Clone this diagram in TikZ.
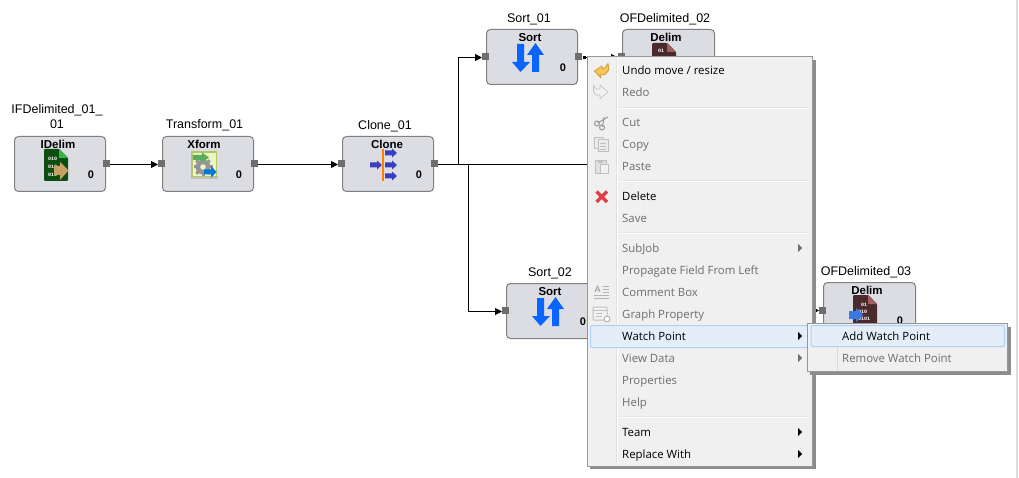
\documentclass[tikz,border=0pt]{standalone}
\usepackage{fontspec}
\setmainfont{Liberation Sans}
\newfontfamily\menufont{Open Sans}
\newfontfamily\monofont{Liberation Mono}
\usetikzlibrary{arrows.meta}
\definecolor{boxfill}{HTML}{DCDDE3}
\definecolor{boxline}{HTML}{7F7F7F}
\definecolor{portc}{HTML}{6E6E6E}
\definecolor{menubg}{HTML}{F0F0F0}
\definecolor{menuline}{HTML}{979797}
\definecolor{dis}{HTML}{6D6D6D}
\definecolor{sortblue}{HTML}{0A64FF}
\definecolor{clonearrow}{HTML}{3A3FBF}
\definecolor{hl}{HTML}{E4EEF9}
\definecolor{hlline}{HTML}{AECFF7}
\definecolor{docgreen}{HTML}{0E4D12}
\definecolor{cornergreen}{HTML}{35B54A}
\definecolor{docbrown}{HTML}{4A2A2C}
\definecolor{cornerbrown}{HTML}{A06060}
\definecolor{tan}{HTML}{C9A063}
\definecolor{xfill}{HTML}{E8F8C0}
\definecolor{xline}{HTML}{B8C468}
\definecolor{bluedoc}{HTML}{3B78E0}
\definecolor{undofill}{HTML}{F7C65B}
\definecolor{undoline}{HTML}{D49A2A}
\definecolor{delred}{RGB}{226,62,72}
\tikzset{
 comp/.style={draw=boxline,fill=boxfill,line width=1pt,rounded corners=4pt,minimum width=91pt,minimum height=55pt,inner sep=0pt,outer sep=0pt,anchor=north west},
 port/.style={fill=portc,minimum size=7pt,inner sep=0pt,outer sep=0pt,draw=none},
 capt/.style={font=\fontsize{12.5}{15}\selectfont,inner sep=0pt,align=center},
 ttl/.style={font=\fontsize{11.5}{13}\selectfont\bfseries,inner sep=0pt},
 cnt/.style={font=\fontsize{11}{13}\selectfont\bfseries,inner sep=0pt},
 bits/.style={text=white,font=\fontsize{5}{5}\selectfont\monofont\bfseries,inner sep=0pt,anchor=base west},
 wire/.style={draw=black,line width=1pt},
 arr/.style={wire,-{Triangle[length=7pt,width=7pt]}},
 item/.style={font=\fontsize{11.4}{14}\selectfont\menufont,text=black,inner sep=0pt,anchor=base west},
 itemd/.style={item,text=dis},
}
\newcommand{\sorticon}[2]{\begin{scope}[shift={(#1,#2)}]
 \fill[sortblue] (31,15)--(38,15)--(38,33)--(44,33)--(34.5,43)--(26,33)--(31,33)--cycle;
 \fill[sortblue] (46,43)--(53,43)--(53,26)--(58,26)--(49.5,14)--(41,26)--(46,26)--cycle;
\end{scope}}
\newcommand{\docicon}[4]{\begin{scope}[shift={(#1,#2)}]
 \fill[#3,rounded corners=1pt] (0,0)--(15,0)--(24,9)--(24,32)--(0,32)--cycle;
 \fill[#4] (15,0)--(24,9)--(15,9)--cycle;
\end{scope}}
\begin{document}
\begin{tikzpicture}[x=1pt,y=-1pt]
\useasboundingbox (0,0) rectangle (1019,478);
\fill[white] (0,0) rectangle (1019,478);
\draw[color=boxfill,line width=2pt] (1017,0)--(1017,478);
% components
\node[comp] (idelim) at (14.5,136.5) {};
\node[comp] (xform) at (162.5,136.5) {};
\node[comp] (clone) at (342.5,136.5) {};
\node[comp] (sorta) at (486.5,29.5) {};
\node[comp,minimum width=92pt] (ofa) at (622.5,29.5) {};
\node[comp] (sortb) at (506.5,283.5) {};
\node[comp,minimum width=92pt] (ofb) at (823.5,282.5) {};
% captions
\node[capt] (capi) at (57,116.5) {IFDelimited\_01\_\\01};
\node[capt] (capx) at (204.5,125.5) {Transform\_01};
\node[capt] (capc) at (385,126) {Clone\_01};
\node[capt] (capa) at (529,19) {Sort\_01};
\node[capt] (capo) at (665,19) {OFDelimited\_02};
\node[capt] (capb) at (550,273) {Sort\_02};
\node[capt] (capp) at (866,272) {OFDelimited\_03};
% titles
\node[ttl] (ti) at (58,144.5) {IDelim};
\node[ttl] (tx) at (204,144.5) {Xform};
\node[ttl] (tc) at (387,144.5) {Clone};
\node[ttl] (ta) at (530,37.5) {Sort};
\node[ttl] (to) at (666,37.5) {Delim};
\node[ttl] (tb) at (550,291.5) {Sort};
\node[ttl] (tp) at (867,290.5) {Delim};
% counters
\node[cnt] (ci) at (91,175) {0};
\node[cnt] (cx) at (239,175) {0};
\node[cnt] (cc) at (419,175) {0};
\node[cnt] (ca) at (563,68) {0};
\node[cnt] (cb) at (583,322) {0};
\node[cnt] (cp) at (900,321) {0};
% icons
\docicon{44}{149}{docgreen}{cornergreen}
\node[bits] (bi1) at (48,161) {010};
\node[bits] (bi2) at (48,169) {010};
\node[bits] (bi3) at (48,176.5) {010};
\fill[tan] (54,166)--(60,166)--(60,162)--(68.5,170.5)--(60,180)--(60,175)--(54,175)--cycle;
% transform icon
\fill[black!25] (191,176) rectangle (218,179);
\filldraw[draw=xline,fill=xfill,line width=1.6pt] (191.8,151.8) rectangle (216.5,176.5);
\foreach \ang in {0,45,...,315}{\draw[black!42,line width=3pt] (203,167)--++(\ang:9.5);}
\fill[black!42] (203,167) circle (7.5pt);
\fill[xfill] (203,167) circle (2.8pt);
\fill[green!50!black!65] (193,155)--(202,155)--(202,152.5)--(209,157.5)--(202,162.5)--(202,160)--(193,160)--cycle;
\fill[blue!45!cyan!85!black] (204,169.5)--(211,169.5)--(211,166)--(216.5,172)--(211,177.5)--(211,174.5)--(204,174.5)--cycle;
% clone icon
\fill[orange] (382,149) rectangle (384,181);
\foreach \yy/\xx in {153/385,165/385,176/385,165/370}{
 \fill[clonearrow,shift={(\xx,\yy)}] (0,-2.5)--(7,-2.5)--(7,-4.5)--(12,0)--(7,4.5)--(7,2.5)--(0,2.5)--cycle;}
\sorticon{486}{29}
\sorticon{506}{283}
\docicon{652}{43}{docbrown}{cornerbrown}
\node[bits] (bo1) at (658,53) {01};
\docicon{853}{295}{docbrown}{cornerbrown}
\node[bits] (bp1) at (861,306) {01};
\node[bits] (bp2) at (858,313.5) {010};
\node[bits] (bp3) at (858,320.5) {0101};
\fill[bluedoc] (849,311)--(856,311)--(856,308)--(863,315)--(856,322)--(856,319)--(849,319)--cycle;
% ports
\node[port] (idelimout) at (106,163.5) {};
\node[port] (xformin) at (161.5,163.5) {};
\node[port] (xformout) at (254.5,163.5) {};
\node[port] (clonein) at (341.5,163.5) {};
\node[port] (cloneout) at (434.5,163.5) {};
\node[port] (sortain) at (485.5,56.5) {};
\node[port] (sortaout) at (578.5,56.5) {};
\node[port] (ofain) at (621.5,56.5) {};
\node[port] (sortbin) at (505.5,310.5) {};
\node[port] (sortbout) at (598.5,310.5) {};
\node[port] (ofbin) at (822.5,310) {};
% connectors
\draw[arr] ([yshift=-1pt]idelimout.east) -- ([yshift=-1pt]xformin.west);
\draw[arr] ([yshift=-1pt]xformout.east) -- ([yshift=-1pt]clonein.west);
\coordinate (branchup) at (458.5,164.5);
\coordinate (branchdn) at (468.5,164.5);
\coordinate (hidden) at (640,164.5);
\draw[wire] ([yshift=-1pt]cloneout.east) -- (hidden);
\draw[arr] (branchup) |- ([yshift=-1pt]sortain.west);
\draw[arr] (branchdn) |- ([yshift=-1pt]sortbin.west);
\draw[wire,{Square[length=3pt,width=3pt]}-{Triangle[length=7pt,width=7pt]}] ([xshift=1pt,yshift=-1pt]sortaout.east) -- ([yshift=-1pt]ofain.west);
\draw[arr] ([yshift=-1pt]sortbout.east) -- ([yshift=-.5pt]ofbin.west);
% main menu
\fill[black!45] (590,60) rectangle (816,469);
\filldraw[fill=menubg,draw=menuline,line width=1pt] (587.5,56.5) rectangle (812.5,466.5);
\draw[draw=white,line width=1pt] (617.5,58)--(617.5,465);
\draw[draw=black!12,line width=.6pt] (616.5,58)--(616.5,465);
\foreach \yy in {108,181,233,417}{\draw[draw=white,line width=1.5pt] (618,\yy)--(810,\yy);\draw[draw=black!10,line width=.5pt] (618,\yy-1)--(810,\yy-1);}
% highlight
\filldraw[fill=hl,draw=hlline,line width=1pt,rounded corners=2pt] (590.5,325.5) rectangle (811,347.5);
% items
\node[item] (undo) at (622,74.5) {Undo move / resize};
\node[itemd] (redo) at (622,96.5) {Redo};
\node[itemd] (cut) at (622,126.5) {Cut};
\node[itemd] (copy) at (622,148.5) {Copy};
\node[itemd] (paste) at (622,170.5) {Paste};
\node[item] (delete) at (622,200.5) {Delete};
\node[itemd] (save) at (622,222.5) {Save};
\node[itemd] (subjob) at (622,252) {SubJob};
\node[itemd] (prop) at (622,274) {Propagate Field From Left};
\node[itemd] (comment) at (622,296) {Comment Box};
\node[itemd] (graph) at (622,318) {Graph Property};
\node[item] (watch) at (622,340) {Watch Point};
\node[itemd] (view) at (622,362) {View Data};
\node[itemd] (props) at (622,384) {Properties};
\node[itemd] (help) at (622,406) {Help};
\node[item] (team) at (622,436) {Team};
\node[item] (repl) at (622,458) {Replace With};
% submenu arrows
\foreach \yy in {248,358}{\fill[dis] (798,\yy-4)--(802,\yy)--(798,\yy+4)--cycle;}
\foreach \yy in {336,432,454}{\fill[black] (798,\yy-4)--(802,\yy)--(798,\yy+4)--cycle;}
% menu icons
\filldraw[fill=undofill,draw=undoline,line width=.8pt,line join=round]
  (594.5,71)--(602,66)--(602.5,69)--(605,68)--(608,63.5)--(608.8,70)--(605,74.5)--(600,75)--(601,78)--cycle;
\filldraw[fill=black!5,draw=black!22,line width=.8pt,line join=round]
  (593.5,85)--(596,89)--(600,89)--(600,85)--(608,92)--(600,98.5)--(600,95)--(596,95)--(593.5,91)--cycle;
\draw[black!40,line width=1pt] (597.5,123)--(608,117) (602.5,127)--(604,117);
\draw[black!40,line width=1pt] (597,123.5) circle (2.5pt) (602,127.5) circle (2.5pt);
\begin{scope}[shift={(594,138)}]
 \filldraw[fill=black!8,draw=black!25,line width=1pt] (0,0) rectangle (9,11);
 \filldraw[fill=black!8,draw=black!25,line width=1pt] (4,2) rectangle (14,14);
 \foreach \yy in {5,8,11} \draw[black!25,line width=.8pt] (6,\yy)--(12,\yy);
\end{scope}
\begin{scope}[shift={(595,160)}]
 \filldraw[fill=black!12,draw=black!25,line width=1pt] (0,1) rectangle (11,14);
 \filldraw[fill=black!25,draw=none] (3,0) rectangle (8,3);
 \filldraw[fill=black!5,draw=black!25,line width=1pt] (5,5) rectangle (13,14);
\end{scope}
\draw[draw=delred,line width=3.4pt] (596.5,191.5)--(607,202) (607,191.5)--(596.5,202);
\begin{scope}[shift={(594,285)}]
 \node[font=\fontsize{9}{9}\selectfont\bfseries,text=black!35,inner sep=0pt] (aicon) at (3.5,4) {A};
 \foreach \yy/\xs in {1/8.5,4/8.5,7/8.5,10/0,13/0} \draw[black!30,line width=1pt] (\xs,\yy)--(15,\yy);
\end{scope}
\begin{scope}[shift={(593,306)}]
 \filldraw[fill=black!5,draw=black!25,line width=1pt,rounded corners=1pt] (0,1) rectangle (14,14);
 \draw[black!25,line width=1pt] (0,4)--(14,4);
 \foreach \yy in {7,10} \draw[black!25,line width=.8pt] (3,\yy)--(9,\yy);
 \filldraw[fill=white,draw=black!35,line width=.8pt] (14,13) circle (3pt);
\end{scope}
% submenu
\fill[black!45] (810,327) rectangle (1011,375);
\filldraw[fill=menubg,draw=menuline,line width=1pt] (807.5,323.5) rectangle (1007.5,371.5);
\draw[draw=black!15,line width=1pt] (837,325)--(837,370);
\filldraw[fill=hl,draw=hlline,line width=1pt,rounded corners=2pt] (811,325.5) rectangle (1004.5,346.5);
\node[item] (addwp) at (842,340) {Add Watch Point};
\node[itemd] (remwp) at (842,362) {Remove Watch Point};
\end{tikzpicture}
\end{document}
